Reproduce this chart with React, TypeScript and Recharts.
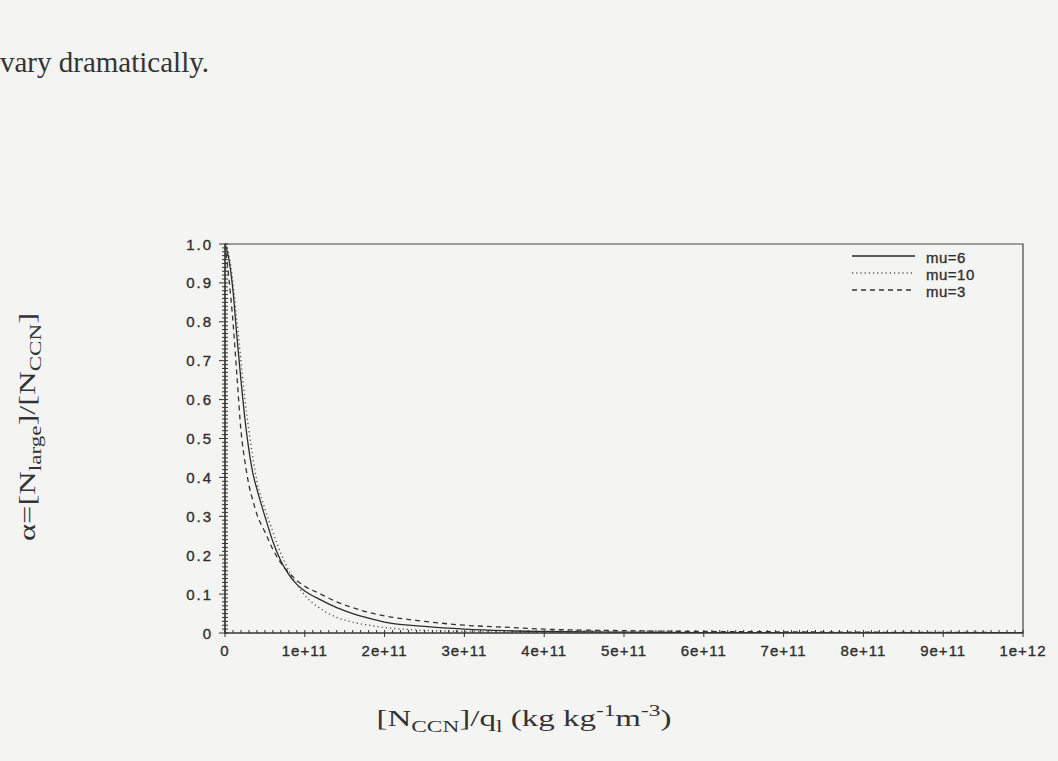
import React from 'react';
import { LineChart, Line, XAxis, YAxis, ReferenceArea } from 'recharts';

const W = 1058;
const H = 761;

// x values ([N_CCN]/q_l)
const xValues = [0, 0.5e10, 1e10, 1.5e10, 2e10, 2.5e10, 3e10, 3.5e10, 4e10, 5e10, 6e10, 7e10, 8e10, 9e10, 1e11, 1.2e11, 1.4e11, 1.6e11, 1.8e11, 2e11, 2.5e11, 3e11, 3.5e11, 4e11, 5e11, 6e11, 7e11, 8e11, 9e11, 1e12];
// alpha values for each shape parameter
const mu6 = [1.0, 0.96, 0.88, 0.76, 0.65, 0.55, 0.47, 0.41, 0.37, 0.3, 0.235, 0.185, 0.15, 0.125, 0.108, 0.085, 0.065, 0.05, 0.038, 0.028, 0.017, 0.01, 0.006, 0.004, 0.002, 0.001, 0.0006, 0.0003, 0.0002, 0.0001];
const mu10 = [1.0, 0.97, 0.9, 0.8, 0.7, 0.6, 0.52, 0.45, 0.39, 0.32, 0.26, 0.205, 0.16, 0.125, 0.097, 0.062, 0.04, 0.028, 0.02, 0.014, 0.007, 0.004, 0.002, 0.001, 0.0005, 0.0002, 0.0001, 0, 0, 0];
const mu3 = [1.0, 0.91, 0.8, 0.66, 0.52, 0.44, 0.38, 0.34, 0.305, 0.26, 0.215, 0.18, 0.155, 0.135, 0.12, 0.1, 0.08, 0.065, 0.053, 0.044, 0.03, 0.02, 0.015, 0.01, 0.006, 0.004, 0.003, 0.002, 0.0015, 0.001];

const xTickLabels = ['0', '1e+11', '2e+11', '3e+11', '4e+11', '5e+11', '6e+11', '7e+11', '8e+11', '9e+11', '1e+12'];
const yTickLabels = ['0', '0.1', '0.2', '0.3', '0.4', '0.5', '0.6', '0.7', '0.8', '0.9', '1.0'];
const xMinorTicks = Array.from({ length: 101 }, (_, i) => i * 1e10);
const yMinorTicks = Array.from({ length: 101 }, (_, i) => i / 100);

const legendItems = [
  { name: 'mu=6', dash: undefined as string | undefined, width: 1.3, color: '#2b2b2b' },
  { name: 'mu=10', dash: '1.2 3', width: 1.4, color: '#555' },
  { name: 'mu=3', dash: '5 4', width: 1.3, color: '#333' },
];

const data = xValues.map((x, i) => ({ x, mu6: mu6[i], mu10: mu10[i], mu3: mu3[i] }));

const tickFont = '"Liberation Sans", Arial, Helvetica, sans-serif';
const tickTextProps = { fontFamily: tickFont, fontSize: 15, fill: '#2e2e2e', stroke: '#2e2e2e', strokeWidth: 0.35 };

const renderXTick = (props: any) => {
  const { x, y, payload } = props;
  const idx = Math.round(payload.value / 1e10);
  const major = idx % 10 === 0;
  return (
    <g key={`xt-${idx}`}>
      <line x1={x} x2={x} y1={major ? y + 4 : y} y2={y - 3} stroke="#333" strokeWidth={1} />
      {major && (
        <text x={x} y={y + 23} textAnchor="middle" letterSpacing={1} {...tickTextProps}>
          {xTickLabels[idx / 10]}
        </text>
      )}
    </g>
  );
};

const renderYTick = (props: any) => {
  const { x, y, payload } = props;
  const idx = Math.round(payload.value * 100);
  const major = idx % 10 === 0;
  return (
    <g key={`yt-${idx}`}>
      <line x1={major ? x - 6 : x - 3} x2={x + 3} y1={y} y2={y} stroke="#333" strokeWidth={1} />
      {major && (
        <text x={x - 12} y={y} textAnchor="end" dominantBaseline="central" letterSpacing={2} {...tickTextProps}>
          {yTickLabels[idx / 10]}
        </text>
      )}
    </g>
  );
};

export default function App() {
  const serif = '"Liberation Serif", "Times New Roman", serif';
  return (
    <div style={{ position: 'absolute', left: 0, top: 0, width: W, height: H, background: '#f4f4f3', overflow: 'hidden' }}>
      <LineChart
        width={W}
        height={H}
        data={data}
        margin={{ left: 165, right: W - 1023, top: 244, bottom: H - 633 - 40 }}
      >
        <XAxis
          dataKey="x"
          type="number"
          domain={[0, 1e12]}
          ticks={xMinorTicks}
          interval={0}
          height={40}
          tickSize={0}
          tickMargin={0}
          tickLine={false}
          tick={renderXTick}
          axisLine={{ stroke: '#333', strokeWidth: 1.2 }}
          allowDataOverflow
        />
        <YAxis
          type="number"
          domain={[0, 1]}
          ticks={yMinorTicks}
          interval={0}
          width={60}
          tickSize={0}
          tickMargin={0}
          tickLine={false}
          tick={renderYTick}
          axisLine={{ stroke: '#333', strokeWidth: 1.2 }}
          allowDataOverflow
        />
        <ReferenceArea x1={0} x2={1e12} y1={0} y2={1} fill="none" stroke="#444" strokeWidth={1.2} ifOverflow="visible" />
        <Line type="monotone" dataKey="mu6" stroke="#2b2b2b" strokeWidth={1.3} dot={false} isAnimationActive={false} />
        <Line type="monotone" dataKey="mu10" stroke="#555" strokeWidth={1.4} strokeDasharray="1.2 3" dot={false} isAnimationActive={false} />
        <Line type="monotone" dataKey="mu3" stroke="#333" strokeWidth={1.3} strokeDasharray="5 4" dot={false} isAnimationActive={false} />
      </LineChart>

      <svg width={W} height={H} style={{ position: 'absolute', left: 0, top: 0, pointerEvents: 'none' }}>
        <text x={0} y={72} fontFamily={serif} fontSize={29} fill="#333">vary dramatically.</text>

        {/* legend */}
        {legendItems.map((it, i) => (
          <g key={it.name}>
            <line x1={852} x2={915} y1={256 + i * 17} y2={256 + i * 17} stroke={it.color} strokeWidth={it.width} strokeDasharray={it.dash} />
            <text x={926} y={257 + i * 17} dominantBaseline="central" letterSpacing={0.5} {...tickTextProps}>{it.name}</text>
          </g>
        ))}

        {/* y-axis title */}
        <text transform="translate(35,427) rotate(-90)" textAnchor="middle" fontFamily={serif} fontSize={24} fill="#333" textLength={228} lengthAdjust="spacingAndGlyphs">
          α=[N<tspan dy={6} fontSize={17}>large</tspan><tspan dy={-6}>]/[N</tspan><tspan dy={6} fontSize={17}>CCN</tspan><tspan dy={-6}>]</tspan>
        </text>

        {/* x-axis title */}
        <text x={524} y={726} textAnchor="middle" fontFamily={serif} fontSize={24} fill="#333" textLength={295} lengthAdjust="spacingAndGlyphs">
          [N<tspan dy={6} fontSize={17}>CCN</tspan><tspan dy={-6}>]/q</tspan><tspan dy={6} fontSize={17}>l</tspan><tspan dy={-6}> (kg kg</tspan><tspan dy={-10} fontSize={17}>-1</tspan><tspan dy={10}>m</tspan><tspan dy={-10} fontSize={17}>-3</tspan><tspan dy={10}>)</tspan>
        </text>
      </svg>
    </div>
  );
}
